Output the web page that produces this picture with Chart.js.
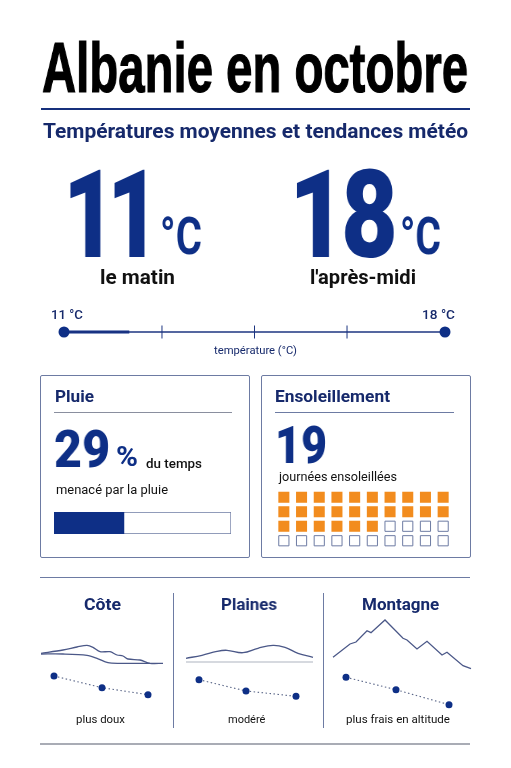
<!DOCTYPE html>
<html lang="fr">
<head>
<meta charset="utf-8">
<title>Albanie en octobre</title>
<script src="https://cdn.jsdelivr.net/npm/chart.js@4"></script>
<style>
  html, body { margin: 0; padding: 0; background: #fff; }
  #page { position: relative; width: 511px; height: 768px; overflow: hidden; font-family: Roboto, "Liberation Sans", sans-serif; color: #111; }
  #page canvas { position: absolute; }
  .t { position: absolute; white-space: nowrap; line-height: 1; transform-origin: left center; will-change: transform; }
  .navy { color: #0e2f86; }
  .dark { color: #16296b; }
  .narrow { font-family: "Liberation Sans Narrow", "Liberation Sans", sans-serif; font-weight: 700; }
  .big { font-family: Roboto, sans-serif; font-weight: 900; }
  .b { font-weight: 700; }
  .m { font-weight: 500; }
  .rule { position: absolute; }
  .card { position: absolute; box-sizing: border-box; border: 1px solid #6d7ba3; border-radius: 2px; top: 375px; height: 183px; width: 210px; }
</style>
</head>
<body>
<div id="page">
  <div class="t narrow" data-w="426" style="left:42px;top:33px;font-size:70px;-webkit-text-stroke:1.2px #000;color:#000">Albanie en octobre</div>
  <div class="rule" style="left:41px;top:108px;width:429px;height:2px;background:#16307c"></div>
  <div class="t b dark" data-w="425" style="left:43px;top:121px;font-size:20px">Températures moyennes et tendances météo</div>

  <div class="t big navy" data-w="88" style="left:63px;top:155px;font-size:122px;letter-spacing:-12px">11</div>
  <div class="t b navy" data-w="42" style="left:160px;top:211px;font-size:52px">°C</div>
  <div class="t big navy" data-w="104" style="left:289px;top:155px;font-size:122px;letter-spacing:-6px">18</div>
  <div class="t b navy" data-w="41" style="left:400px;top:211px;font-size:52px">°C</div>
  <div class="t b" data-w="75" style="left:100px;top:267px;font-size:20px">le matin</div>
  <div class="t b" data-w="106" style="left:310px;top:267px;font-size:20px">l'après-midi</div>

  <div class="t m dark" data-w="32" style="left:51px;top:309px;font-size:12px">11 °C</div>
  <div class="t m dark" data-w="33" style="left:422px;top:309px;font-size:12px">18 °C</div>
  <div class="t dark" data-w="83" style="left:214px;top:346px;font-size:10.5px">température (°C)</div>
  <canvas id="tempChart" width="421" height="40" style="left:44px;top:312px"></canvas>

  <div class="card" style="left:40px"></div>
  <div class="t b dark" data-w="39" style="left:55px;top:388px;font-size:17px">Pluie</div>
  <div class="rule" style="left:54px;top:412px;width:178px;height:1px;background:#8a8f9f"></div>
  <div class="t big navy" data-w="56" style="left:54px;top:424px;font-size:52px">29</div>
  <div class="t b navy" data-w="22" style="left:116px;top:444px;font-size:27px">%</div>
  <div class="t m" data-w="56" style="left:146px;top:458px;font-size:12px">du temps</div>
  <div class="t" data-w="112" style="left:56px;top:484px;font-size:12.5px">menacé par la pluie</div>
  <canvas id="rainChart" width="179" height="24" style="left:53px;top:511px"></canvas>

  <div class="card" style="left:261px"></div>
  <div class="t b dark" data-w="115" style="left:275px;top:388px;font-size:17px">Ensoleillement</div>
  <div class="rule" style="left:275px;top:412px;width:179px;height:1px;background:#6d7ba3"></div>
  <div class="t big navy" data-w="52" style="left:275px;top:420px;font-size:52px">19</div>
  <div class="t" data-w="118" style="left:279px;top:471px;font-size:12.5px">journées ensoleillées</div>
  <canvas id="sunChart" width="177" height="58" style="left:275px;top:490px"></canvas>

  <div class="rule" style="left:40px;top:577px;width:430px;height:1px;background:#6d7ba3"></div>
  <div class="rule" style="left:40px;top:743px;width:430px;height:2px;background:#a9acb5"></div>
  <div class="rule" style="left:173px;top:593px;width:1px;height:135px;background:#6d7ba3"></div>
  <div class="rule" style="left:323px;top:593px;width:1px;height:135px;background:#6d7ba3"></div>

  <canvas id="coteChart" width="150" height="180" style="left:30px;top:570px"></canvas>
  <canvas id="plainesChart" width="150" height="180" style="left:175px;top:570px"></canvas>
  <canvas id="montagneChart" width="150" height="180" style="left:325px;top:570px"></canvas>

  <div class="t b dark" data-w="37" style="left:84px;top:596px;font-size:17px">Côte</div>
  <div class="t b dark" data-w="56" style="left:221px;top:596px;font-size:17px">Plaines</div>
  <div class="t b dark" data-w="77" style="left:362px;top:596px;font-size:17px">Montagne</div>
  <div class="t" data-w="49" style="left:76px;top:714px;font-size:11px">plus doux</div>
  <div class="t" data-w="37" style="left:228px;top:714px;font-size:11px">modéré</div>
  <div class="t" data-w="104" style="left:346px;top:714px;font-size:11px">plus frais en altitude</div>
</div>

<script>
// temperature strip
const tempRange = [11, 18];
const tempMorningSpan = [11, 12.2];
const tempTicks = [12.8, 14.5, 16.2];

// rain bar, as drawn in the picture
const rainFilled = [39.5];
const rainEmpty = [60.5];

// sunshine grid
const sunColumns = [1, 2, 3, 4, 5, 6, 7, 8, 9, 10];
const sunRows = [1, 2, 3, 4];
const sunFilledCells = 26;

// relief profiles and temperature trends (panel units)
const coteUpperX = [11, 33, 47, 57, 63, 70, 80, 87, 93, 98, 110, 120, 133];
const coteUpperY = [96.7, 100, 103, 104.7, 102.7, 98.3, 98.3, 95, 94, 91, 90, 86.7, 86.7];
const coteLowerX = [11, 33, 57, 67, 78, 90, 120];
const coteLowerY = [96, 96, 94.7, 91.7, 87.3, 86.7, 86.7];
const coteTrendX = [24, 72, 118];
const coteTrendY = [74, 62.3, 55.3];

const plainesX = [11, 27, 42, 52, 68, 83, 98, 110, 123, 138];
const plainesY = [91.7, 94.7, 98.7, 99.7, 97.3, 101.7, 104.7, 102.7, 96.7, 92.7];
const plainesGroundX = [11, 138];
const plainesGroundY = [88, 88];
const plainesTrendX = [24, 71, 121];
const plainesTrendY = [70.3, 59, 53.7];

const montagneX = [8, 25, 31, 42, 46, 60, 78, 82, 92, 102, 117, 122, 138, 146];
const montagneY = [92.7, 106, 108, 119.3, 117.3, 130, 111.7, 110, 101, 108.7, 95, 97.7, 84.3, 81.3];
const montagneTrendX = [21, 71, 124];
const montagneTrendY = [72.7, 60.3, 45.3];

const NAVY = '#0e2f86';
const LINE = '#1c3480';
const RELIEF = '#4b5888';
const ORANGE = '#f28c1e';
const EDGE = '#6d7ba3';

Chart.defaults.animation = false;
Chart.defaults.responsive = false;
Chart.defaults.layout.autoPadding = false;
Chart.defaults.plugins.legend.display = false;
Chart.defaults.plugins.tooltip.enabled = false;

function zip(xs, ys) {
  return xs.map((x, i) => ({ x: x, y: ys[i] }));
}

document.querySelectorAll('.t[data-w]').forEach((el) => {
  const natural = el.getBoundingClientRect().width;
  el.style.transform = `scaleX(${Number(el.dataset.w) / natural})`;
});

new Chart(document.getElementById('tempChart'), {
  type: 'scatter',
  data: {
    datasets: [
      { data: zip(tempRange, [0, 0]), showLine: true, borderColor: LINE, borderWidth: 1.5, pointRadius: 5.5, pointBackgroundColor: NAVY, pointBorderWidth: 0, clip: false },
      { data: zip(tempMorningSpan, [0, 0]), showLine: true, borderColor: NAVY, borderWidth: 3, pointRadius: 0, clip: false },
      { data: zip(tempTicks, [0, 0, 0]), pointStyle: 'line', rotation: 90, pointRadius: 6.5, borderColor: LINE, borderWidth: 1, pointBorderColor: LINE, clip: false },
    ],
  },
  options: {
    layout: { padding: { left: 20, right: 20 } },
    scales: {
      x: { display: false, min: tempRange[0], max: tempRange[1] },
      y: { display: false, min: -1, max: 1 },
    },
  },
});

new Chart(document.getElementById('rainChart'), {
  type: 'bar',
  data: {
    labels: ['Pluie'],
    datasets: [
      { data: rainFilled, backgroundColor: NAVY, barPercentage: 1, categoryPercentage: 1, stack: 's' },
      { data: rainEmpty, backgroundColor: '#fff', borderColor: EDGE, borderWidth: 1, barPercentage: 1, categoryPercentage: 1, stack: 's' },
    ],
  },
  options: {
    indexAxis: 'y',
    layout: { padding: 1 },
    scales: {
      x: { display: false, stacked: true, min: 0, max: 100 },
      y: { display: false, stacked: true },
    },
  },
});

const sunCells = [];
sunRows.forEach((row) => sunColumns.forEach((col) => sunCells.push({ x: col, y: row })));

new Chart(document.getElementById('sunChart'), {
  type: 'scatter',
  data: {
    datasets: [
      { data: sunCells.slice(0, sunFilledCells), pointStyle: 'rect', pointRadius: 7.8, pointBackgroundColor: ORANGE, pointBorderWidth: 0, clip: false },
      { data: sunCells.slice(sunFilledCells), pointStyle: 'rect', pointRadius: 7.2, pointBackgroundColor: '#fff', pointBorderColor: EDGE, pointBorderWidth: 1, clip: false },
    ],
  },
  options: {
    scales: {
      x: { display: false, min: 0.5, max: 10.5 },
      y: { display: false, min: 0.5, max: 4.5, reverse: true },
    },
  },
});

function drawPanel(id, reliefs, trend) {
  const datasets = reliefs.map((r) => ({
    data: r.data,
    showLine: true,
    borderColor: r.color || RELIEF,
    borderWidth: r.width || 1.3,
    tension: r.tension,
    pointRadius: 0,
  }));
  datasets.push({
    data: trend,
    showLine: true,
    borderColor: '#5a6688',
    borderWidth: 1.1,
    borderDash: [1.5, 2.5],
    pointRadius: 3.5,
    pointBackgroundColor: NAVY,
    pointBorderWidth: 0,
  });
  new Chart(document.getElementById(id), {
    type: 'scatter',
    data: { datasets: datasets },
    options: {
      scales: {
        x: { display: false, min: 0, max: 150 },
        y: { display: false, min: 0, max: 180 },
      },
    },
  });
}

drawPanel('coteChart', [
  { data: zip(coteUpperX, coteUpperY), tension: 0.3 },
  { data: zip(coteLowerX, coteLowerY), tension: 0.3 },
], zip(coteTrendX, coteTrendY));

drawPanel('plainesChart', [
  { data: zip(plainesGroundX, plainesGroundY), tension: 0, color: '#c9ccd4', width: 1.5 },
  { data: zip(plainesX, plainesY), tension: 0.4 },
], zip(plainesTrendX, plainesTrendY));

drawPanel('montagneChart', [
  { data: zip(montagneX, montagneY), tension: 0 },
], zip(montagneTrendX, montagneTrendY));
</script>
</body>
</html>
